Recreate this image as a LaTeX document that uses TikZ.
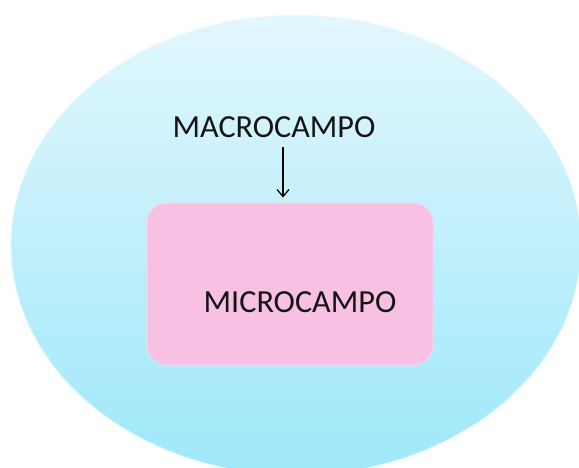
\documentclass[tikz,border=0pt]{standalone}
\usepackage{fontspec}
\setmainfont{Carlito}
\usetikzlibrary{shapes.geometric,arrows.meta}
\definecolor{elltop}{RGB}{226,247,253}
\definecolor{ellbot}{RGB}{158,232,250}
\definecolor{rectpink}{RGB}{248,192,226}
\definecolor{textcol}{RGB}{20,20,20}
\tikzset{
  field/.style={ellipse, minimum width=572pt, minimum height=462pt, inner sep=0pt,
    top color=elltop, bottom color=ellbot, draw=white, draw opacity=0.8, line width=2.5pt},
  box/.style={rectangle, rounded corners=20pt, minimum width=286pt, minimum height=162pt,
    inner sep=0pt, fill=rectpink, draw=rectpink!70!white, line width=1pt},
  label/.style={font=\fontsize{32.2}{36}\selectfont, text=textcol, inner sep=0pt, anchor=base},
  arr/.style={-{Straight Barb[length=7pt,width=12pt]}, line width=1.3pt, black}
}
\begin{document}
\begin{tikzpicture}[x=1pt,y=1pt]
\useasboundingbox (0,0) rectangle (579,467);
\clip (0,0) rectangle (579,467);
\node[field] (outer) at (296,222) {};
\node[box] (micro) at (290,183) {};
\node[label] (microtext) at (300,155) {MICROCAMPO};
\node[label] (macro) at (274,329) {MACROCAMPO};
\coordinate (ax) at (283,0);
\draw[arr, shorten <=9pt, shorten >=5pt] (macro.south -| ax) -- (micro.north -| ax);
\end{tikzpicture}
\end{document}
